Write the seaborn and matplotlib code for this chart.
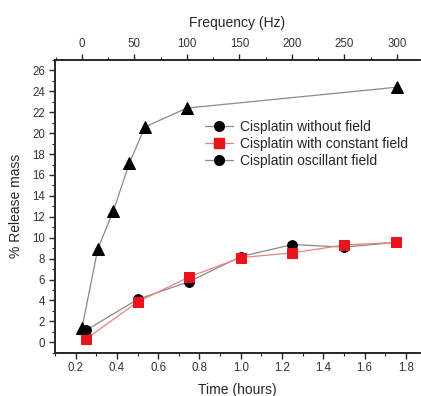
import numpy as np
import pandas as pd
import matplotlib
matplotlib.use("Agg")
import matplotlib.pyplot as plt
from matplotlib.lines import Line2D
from matplotlib.ticker import MultipleLocator
import seaborn as sns

# release vs time (hours)
time_h = [0.25, 0.5, 0.75, 1.0, 1.25, 1.5, 1.75]
no_field = [1.15, 4.1, 5.8, 8.2, 9.35, 9.1, 9.55]
const_field = [0.3, 3.85, 6.25, 8.1, 8.55, 9.3, 9.55]

# release vs frequency (Hz), oscillating field
freq_hz = [0, 15, 30, 45, 60, 100, 300]
osc_field = [1.35, 8.9, 12.6, 17.1, 20.6, 22.4, 24.4]

labels = ["Cisplatin without field", "Cisplatin with constant field",
          "Cisplatin oscillant field"]

sns.set_style("ticks")
plt.rcParams["font.family"] = ["Liberation Sans", "DejaVu Sans"]

df_time = pd.DataFrame({"time": time_h, "none": no_field, "const": const_field})
df_freq = pd.DataFrame({"freq": freq_hz, "osc": osc_field})

fig = plt.figure(figsize=(4.21, 3.96), dpi=100)
ax = fig.add_axes([0.1306, 0.1093, 0.867, 0.7392])

sns.lineplot(data=df_time, x="time", y="none", ax=ax, color="#8a8a8a", lw=0.9,
             marker="o", markersize=7, markerfacecolor="black",
             markeredgecolor="black", zorder=3)
sns.lineplot(data=df_time, x="time", y="const", ax=ax, color="#f08080", lw=0.9,
             marker="s", markersize=6.5, markerfacecolor="#e8141c",
             markeredgecolor="#e8141c", zorder=4)

ax2 = ax.twiny()
sns.lineplot(data=df_freq, x="freq", y="osc", ax=ax2, color="#8a8a8a", lw=0.9,
             marker="^", markersize=8, markerfacecolor="black",
             markeredgecolor="black")

ax.set_xlim(0.1, 1.868)
ax.set_ylim(-1, 27)
ax2.set_xlim(-25.7, 321.9)

ax.xaxis.set_major_locator(MultipleLocator(0.2))
ax.xaxis.set_minor_locator(MultipleLocator(0.1))
ax.yaxis.set_major_locator(MultipleLocator(2))
ax.yaxis.set_minor_locator(MultipleLocator(1))
ax2.xaxis.set_major_locator(MultipleLocator(50))
ax2.xaxis.set_minor_locator(MultipleLocator(25))

for a in (ax, ax2):
    a.tick_params(which="major", length=4, width=1, labelsize=8.3,
                  labelcolor="#333333", pad=3)
    a.tick_params(which="minor", length=2.5, width=0.8)
    for s in a.spines.values():
        s.set_linewidth(1.2)
    a.spines["right"].set_visible(False)

ax.set_xlabel("Time (hours)", fontsize=10, labelpad=6)
ax.set_ylabel("% Release mass", fontsize=10, labelpad=7)
ax2.set_xlabel("Frequency (Hz)", fontsize=10, labelpad=8)

handles = [
    Line2D([], [], color="#8a8a8a", lw=0.9, marker="o", markersize=7,
           markerfacecolor="black", markeredgecolor="black"),
    Line2D([], [], color="#f08080", lw=0.9, marker="s", markersize=6.5,
           markerfacecolor="#e8141c", markeredgecolor="#e8141c"),
    Line2D([], [], color="#8a8a8a", lw=0.9, marker="o", markersize=7,
           markerfacecolor="black", markeredgecolor="black"),
]
ax2.legend(handles, labels, loc="upper left", bbox_to_anchor=(0.411, 0.795),
           frameon=False, fontsize=10, handlelength=2.0, handletextpad=0.5,
           labelspacing=0.2, borderpad=0, borderaxespad=0)

fig.savefig("out.png", dpi=100)
